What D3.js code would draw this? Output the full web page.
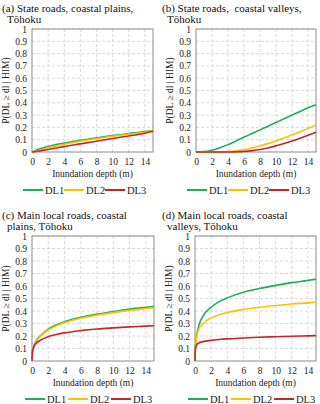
<!DOCTYPE html>
<html>
<head>
<meta charset="utf-8">
<script src="https://cdn.jsdelivr.net/npm/d3@7"></script>
<style>
  body { margin: 0; background: #fff; }
</style>
</head>
<body>
<div id="chart"></div>
<script>
// data
const seriesNames = ['DL1', 'DL2', 'DL3'];
const seriesColors = ['#1fae5b', '#ffc000', '#c3272c'];
const xTicks = [0, 2, 4, 6, 8, 10, 12, 14];
const yTicks = [0, 0.1, 0.2, 0.3, 0.4, 0.5, 0.6, 0.7, 0.8, 0.9, 1];

// (a) state roads, coastal plains
const depthA = [0, 0.5, 1, 2, 3, 4, 6, 8, 10, 12, 14, 15];
const aDL1 = [0, 0.015, 0.026, 0.045, 0.06, 0.072, 0.095, 0.115, 0.134, 0.15, 0.166, 0.175];
const aDL2 = [0, 0.007, 0.015, 0.034, 0.049, 0.062, 0.087, 0.108, 0.128, 0.145, 0.161, 0.172];
const aDL3 = [0, 0.004, 0.009, 0.02, 0.032, 0.044, 0.066, 0.088, 0.11, 0.13, 0.153, 0.168];

// (b) state roads, coastal valleys
const depthB = [0, 1, 2, 3, 4, 5, 6, 7, 8, 9, 10, 11, 12, 13, 14, 15];
const bDL1 = [0, 0.003, 0.015, 0.035, 0.06, 0.09, 0.12, 0.15, 0.18, 0.21, 0.24, 0.27, 0.3, 0.33, 0.36, 0.385];
const bDL2 = [0, 0, 0, 0.001, 0.004, 0.01, 0.02, 0.033, 0.05, 0.068, 0.09, 0.114, 0.14, 0.165, 0.192, 0.22];
const bDL3 = [0, 0, 0, 0, 0, 0.002, 0.005, 0.011, 0.02, 0.033, 0.05, 0.069, 0.09, 0.112, 0.136, 0.16];

// (c) main local roads, coastal plains
const depthC = [0, 0.05, 0.2, 0.5, 1, 2, 3, 4, 6, 8, 10, 12, 14, 15];
const cDL1 = [0, 0.07, 0.11, 0.16, 0.2, 0.255, 0.29, 0.315, 0.35, 0.375, 0.395, 0.415, 0.43, 0.437];
const cDL2 = [0, 0.07, 0.11, 0.155, 0.195, 0.248, 0.282, 0.307, 0.342, 0.367, 0.387, 0.405, 0.42, 0.427];
const cDL3 = [0, 0.07, 0.11, 0.14, 0.165, 0.195, 0.212, 0.225, 0.243, 0.256, 0.265, 0.273, 0.279, 0.282];

// (d) main local roads, coastal valleys
const depthD = [0, 0.05, 0.2, 0.5, 1, 2, 3, 4, 6, 8, 10, 12, 14, 15];
const dDL1 = [0, 0.1, 0.2, 0.29, 0.36, 0.43, 0.475, 0.505, 0.55, 0.58, 0.605, 0.627, 0.645, 0.655];
const dDL2 = [0, 0.1, 0.19, 0.26, 0.3, 0.345, 0.37, 0.388, 0.412, 0.43, 0.444, 0.456, 0.465, 0.47];
const dDL3 = [0, 0.1, 0.13, 0.145, 0.155, 0.165, 0.172, 0.177, 0.184, 0.19, 0.194, 0.198, 0.201, 0.203];

const FONT = "'Liberation Serif'";

const panels = [
  { title: ['(a) State roads, coastal plains,', 'Tōhoku'], depth: depthA, series: [aDL1, aDL2, aDL3],
    left: 32, right: 153, top: 29, bottom: 152, titleX: 2, titleY: 12, legStart: -9, legStep: 41 },
  { title: ['(b) State roads,  coastal valleys,', 'Tōhoku'], depth: depthB, series: [bDL1, bDL2, bDL3],
    left: 196, right: 316, top: 29, bottom: 152, titleX: 162, titleY: 12, legStart: -9, legStep: 41 },
  { title: ['(c) Main local roads, coastal', 'plains, Tōhoku'], depth: depthC, series: [cDL1, cDL2, cDL3],
    left: 32, right: 154, top: 236, bottom: 361, titleX: 2, titleY: 219, legStart: -7, legStep: 43 },
  { title: ['(d) Main local roads, coastal', 'valleys, Tōhoku'], depth: depthD, series: [dDL1, dDL2, dDL3],
    left: 195, right: 316, top: 236, bottom: 361, titleX: 162, titleY: 219, legStart: -7, legStep: 43 }
];

const svg = d3.select('#chart').append('svg')
  .attr('width', 320)
  .attr('height', 404);

panels.forEach(p => {
  const x = d3.scaleLinear().domain([0, 15]).range([p.left, p.right]);
  const y = d3.scaleLinear().domain([0, 1]).range([p.bottom, p.top]);
  const g = svg.append('g');

  // title
  const t = g.append('text')
    .attr('x', p.titleX)
    .attr('y', p.titleY)
    .style('font-family', FONT)
    .style('font-size', '11px')
    .attr('fill', '#111')
    .style('white-space', 'pre');
  t.append('tspan').attr('x', p.titleX).text(p.title[0]);
  t.append('tspan').attr('x', p.titleX + 5).attr('dy', 11).text(p.title[1]);

  // grid
  g.append('g').selectAll('line')
    .data(yTicks.slice(1))
    .join('line')
    .attr('x1', p.left).attr('x2', p.right)
    .attr('y1', d => y(d)).attr('y2', d => y(d))
    .attr('stroke', '#d9d9d9')
    .attr('stroke-dasharray', '3,2');
  g.append('g').selectAll('line')
    .data(xTicks.slice(1))
    .join('line')
    .attr('x1', d => x(d)).attr('x2', d => x(d))
    .attr('y1', p.top).attr('y2', p.bottom)
    .attr('stroke', '#d9d9d9')
    .attr('stroke-dasharray', '3,2');

  // axes
  const xAxis = g.append('g')
    .attr('transform', `translate(0,${p.bottom})`)
    .call(d3.axisBottom(x).tickValues(xTicks).tickSize(0).tickPadding(6));
  const yAxis = g.append('g')
    .attr('transform', `translate(${p.left},0)`)
    .call(d3.axisLeft(y).tickValues(yTicks).tickSize(0).tickPadding(5).tickFormat(d3.format('~g')));
  [xAxis, yAxis].forEach(a => {
    a.select('.domain').remove();
    a.selectAll('text')
      .style('font-family', FONT)
      .style('font-size', '9.5px')
      .attr('fill', '#222');
  });

  // box
  g.append('rect')
    .attr('x', p.left).attr('y', p.top)
    .attr('width', p.right - p.left).attr('height', p.bottom - p.top)
    .attr('fill', 'none')
    .attr('stroke', '#8c8c8c')
    .attr('stroke-width', 1);

  // axis titles
  g.append('text')
    .attr('x', (p.left + p.right) / 2)
    .attr('y', p.bottom + 25)
    .attr('text-anchor', 'middle')
    .style('font-family', FONT)
    .style('font-size', '9.5px')
    .attr('fill', '#222')
    .text('Inundation depth (m)');
  g.append('text')
    .attr('transform', `translate(${p.left - 23},${(p.top + p.bottom) / 2}) rotate(-90)`)
    .attr('text-anchor', 'middle')
    .style('font-family', FONT)
    .style('font-size', '9.5px')
    .attr('fill', '#222')
    .text('P(DL ≥ dl | HIM)');

  // curves
  const line = d3.line()
    .x(d => x(d[0]))
    .y(d => y(d[1]))
    .curve(d3.curveMonotoneX);
  p.series.forEach((vals, i) => {
    g.append('path')
      .datum(p.depth.map((d, j) => [d, vals[j]]))
      .attr('d', line)
      .attr('fill', 'none')
      .attr('stroke', seriesColors[i])
      .attr('stroke-width', 1.6);
  });

  // legend
  const ly = p.bottom + 38;
  seriesNames.forEach((name, i) => {
    const lx = p.left + p.legStart + i * p.legStep;
    g.append('line')
      .attr('x1', lx).attr('x2', lx + 20)
      .attr('y1', ly).attr('y2', ly)
      .attr('stroke', seriesColors[i])
      .attr('stroke-width', 2);
    g.append('text')
      .attr('x', lx + 22)
      .attr('y', ly + 3.5)
      .style('font-family', FONT)
      .style('font-size', '10.5px')
      .attr('fill', '#222')
      .text(name);
  });
});
</script>
</body>
</html>
